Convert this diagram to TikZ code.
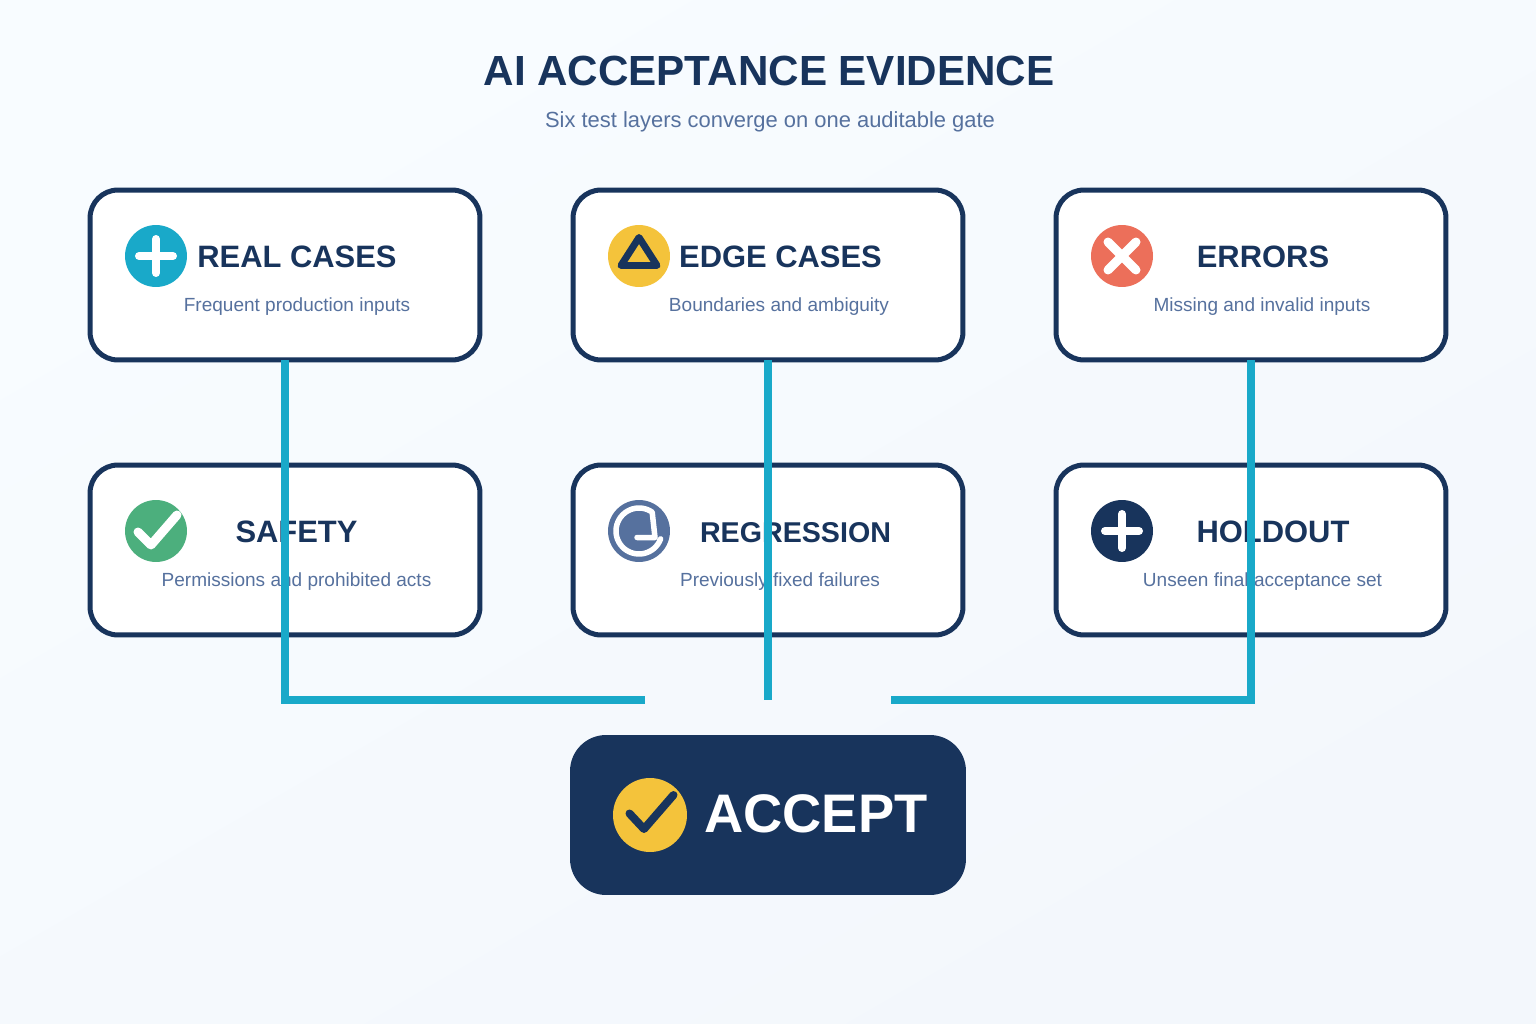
\documentclass[tikz,border=0pt]{standalone}
\usepackage{fontspec}
\setmainfont{Liberation Sans}
\definecolor{navy}{HTML}{18345C}
\definecolor{slateblue}{HTML}{56719E}
\definecolor{tealline}{HTML}{19A9C9}
\definecolor{sunyellow}{HTML}{F4C33B}
\definecolor{coralred}{HTML}{EC6F5A}
\definecolor{leafgreen}{HTML}{4CAF7D}
\definecolor{bgtop}{HTML}{F8FCFF}
\definecolor{bgbottom}{HTML}{F3F7FC}
\tikzset{
	card/.style={draw=navy,fill=white,line width=0.1cm,rounded corners=0.56cm,minimum width=7.8cm,minimum height=3.4cm,outer sep=0pt,inner sep=0pt},
	badge/.style={circle,minimum size=1.24cm,inner sep=0pt,outer sep=0pt},
	cardtitle/.style={anchor=base,inner sep=0pt,text=navy,font=\fontsize{17.6}{20}\selectfont\bfseries},
	cardtext/.style={anchor=base,inner sep=0pt,text=slateblue,font=\fontsize{10.83}{12}\selectfont},
	glyph/.style={line width=0.16cm,line cap=round,line join=round},
	flow/.style={draw=tealline,line width=0.16cm}
}

\begin{document}
\begin{tikzpicture}[x=0.02cm,y=-0.02cm]
	\useasboundingbox (0,0) rectangle (1536,1024);
	% page background
	\shade[top color=bgtop,bottom color=bgbottom,shading angle=30] (0,0) rectangle (1536,1024);

	% heading
	\node[anchor=base,inner sep=0pt,text=navy,font=\fontsize{24}{30}\selectfont\bfseries] (heading) at (769,86) {AI ACCEPTANCE EVIDENCE};
	\node[anchor=base,inner sep=0pt,text=slateblue,font=\fontsize{12.48}{15}\selectfont] (subheading) at (770,128) {Six test layers converge on one auditable gate};

	% top row
	\node[card] (real) at (285,275) {};
	\node[badge,fill=tealline] (realicon) at (156,256) {};
	\draw[glyph,white] (156,239)--(156,273);
	\draw[glyph,white] (139,256)--(173,256);
	\node[cardtitle] (realtitle) at (297,267.5) {REAL CASES};
	\node[cardtext] (realtext) at (297,311.5) {Frequent production inputs};

	\node[card] (edge) at (768,275) {};
	\node[badge,fill=sunyellow] (edgeicon) at (639,256) {};
	\draw[glyph,navy,line width=0.14cm] (639,237.5)--(657,265.5)--(621,265.5)--cycle;
	\node[cardtitle] (edgetitle) at (780.5,267.5) {EDGE CASES};
	\node[cardtext] (edgetext) at (779,311.5) {Boundaries and ambiguity};

	\node[card] (errors) at (1251,275) {};
	\node[badge,fill=coralred] (errorsicon) at (1122,256) {};
	\draw[glyph,white,line width=0.18cm] (1108,242)--(1136,270);
	\draw[glyph,white,line width=0.18cm] (1136,242)--(1108,270);
	\node[cardtitle] (errorstitle) at (1263,267.5) {ERRORS};
	\node[cardtext] (errorstext) at (1262,311.5) {Missing and invalid inputs};

	% bottom row
	\node[card] (safety) at (285,550) {};
	\node[badge,fill=leafgreen] (safetyicon) at (156,531) {};
	\draw[glyph,white,line width=0.18cm] (138,532)--(151,545)--(177,515);
	\node[cardtitle] (safetytitle) at (296.5,542.5) {SAFETY};
	\node[cardtext] (safetytext) at (296.5,586.5) {Permissions and prohibited acts};

	\node[card] (regression) at (768,550) {};
	\node[badge,fill=slateblue] (regressionicon) at (639,531) {};
	\draw[glyph,white,line width=0.11cm] plot[domain=20:305,samples=40] ({639+23*cos(\x)},{531+23*sin(\x)})--(655,537.5)--(637,537.5);
	\node[cardtitle,font=\fontsize{16.3}{20}\selectfont\bfseries] (regressiontitle) at (795.5,542.5) {REGRESSION};
	\node[cardtext] (regressiontext) at (780,586.5) {Previously fixed failures};

	\node[card] (holdout) at (1251,550) {};
	\node[badge,fill=navy] (holdouticon) at (1122,531) {};
	\draw[glyph,white] (1122,514)--(1122,548);
	\draw[glyph,white] (1105,531)--(1139,531);
	\node[cardtitle] (holdouttitle) at (1273,542.5) {HOLDOUT};
	\node[cardtext] (holdouttext) at (1262.5,586.5) {Unseen final acceptance set};

	% gate
	\node[fill=navy,rounded corners=0.72cm,minimum width=7.92cm,minimum height=3.2cm,inner sep=0pt,outer sep=0pt] (accept) at (768,815) {};
	\node[circle,fill=sunyellow,minimum size=1.48cm,inner sep=0pt,outer sep=0pt] (accepticon) at (650,815) {};
	\draw[glyph,navy] (629.5,813.5)--(644,829)--(673.5,795);
	\node[anchor=base,inner sep=0pt,text=white,font=\fontsize{30.9}{36}\selectfont\bfseries] (accepttitle) at (816,832) {ACCEPT};

	% connectors
	\coordinate (mergeleft) at (645,700);
	\coordinate (mergemid) at (768,700);
	\coordinate (mergeright) at (891,700);
	\draw[flow] (real.south)--(real.south |- mergeleft)--(mergeleft);
	\draw[flow] (edge.south)--(mergemid);
	\draw[flow] (errors.south)--(errors.south |- mergeright)--(mergeright);
\end{tikzpicture}
\end{document}
